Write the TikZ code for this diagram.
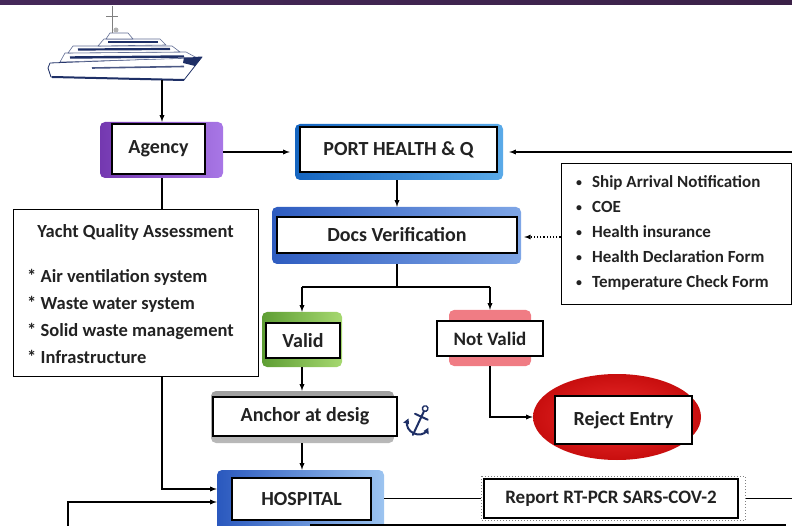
\documentclass[tikz,border=0pt]{standalone}
\usepackage{fontspec}
\setmainfont{Carlito}
\usetikzlibrary{positioning,shapes.geometric,arrows}

\definecolor{barleft}{HTML}{452859}
\definecolor{barmid}{HTML}{6D3A78}
\definecolor{barright}{HTML}{3B2148}
\definecolor{inkgray}{HTML}{222222}
\definecolor{shipnavy}{HTML}{1E2F66}
\definecolor{agencydark}{HTML}{7438B0}
\definecolor{agencylight}{HTML}{A877E6}
\definecolor{portdark}{HTML}{1565C0}
\definecolor{portlight}{HTML}{5AAAE8}
\definecolor{docsdark}{HTML}{2E5CC0}
\definecolor{docslight}{HTML}{7FA6E6}
\definecolor{validdark}{HTML}{5E9E34}
\definecolor{validlight}{HTML}{A6D870}
\definecolor{notvalidred}{HTML}{F07C84}
\definecolor{rejectlight}{HTML}{F03030}
\definecolor{rejectdark}{HTML}{C80E0E}
\definecolor{hospdark}{HTML}{2A58BE}
\definecolor{hosplight}{HTML}{9CC4F0}

\newcommand{\docbullet}{\raisebox{1pt}{\scalebox{0.7}{\textbullet}}\hspace{10pt}}

\begin{document}
\begin{tikzpicture}[x=1pt,y=-1pt,
    every node/.style={font=\bfseries\fontsize{20}{24}\selectfont,text=inkgray},
    whitebox/.style={rectangle,draw=black,line width=1.1pt,fill=white,inner sep=0pt},
    framebox/.style={rectangle,rounded corners=5pt,inner sep=0pt},
    infobox/.style={rectangle,draw=black,line width=1pt,fill=white,inner sep=0pt},
    flow/.style={-latex,line width=1.3pt},
    plain/.style={line width=1.3pt}
    ]
    \useasboundingbox (0,0) rectangle (792,526);

    % title bar
    \shade[left color=barleft,middle color=barmid,right color=barright] (0,0) rectangle (792,5);

    % yacht
    \begin{scope}[line join=round]
        \filldraw[fill=white,draw=shipnavy,line width=0.8pt] (50,63) -- (202,57) -- (184,80) -- (51,77) -- (48,68) -- cycle;
        \filldraw[fill=white,draw=shipnavy!70,line width=0.6pt] (60,62) -- (65,53) -- (186,52) -- (197,58) -- cycle;
        \filldraw[fill=white,draw=shipnavy!70,line width=0.6pt] (68,53) -- (73,46) -- (172,46) -- (180,52) -- cycle;
        \filldraw[fill=white,draw=shipnavy!70,line width=0.6pt] (98,46) -- (104,39) -- (160,39) -- (166,45) -- cycle;
        \filldraw[fill=white,draw=shipnavy!70,line width=0.6pt] (106,39) -- (110,33) -- (128,33) -- (133,39) -- cycle;
        \fill[shipnavy] (184,57.5) -- (202,57) -- (195,66) -- (183,63) -- cycle;
        \draw[shipnavy,line width=2.4pt] (70,57.5) -- (184,56.5);
        \draw[shipnavy,line width=2.2pt] (78,49.5) -- (170,49);
        \draw[shipnavy,line width=2pt] (108,42.5) -- (158,42.5);
        \draw[shipnavy!80,line width=1.6pt] (92,68) -- (184,66.5);
        \draw[shipnavy,line width=2pt] (52,77) -- (184,80);
        \draw[gray,line width=1pt] (112,33) -- (112,6);
        \draw[gray,line width=1pt] (106,17) -- (118,17);
        \fill[gray!60] (116,30) circle (2.5);
    \end{scope}
    \coordinate (keel) at (162,80);
    \coordinate (fromright) at (792,152);
    \coordinate (toright) at (792,498.5);
    \coordinate (lowin) at (68,528);

    % coloured frames
    \node[framebox,left color=agencydark,right color=agencylight,minimum width=123,minimum height=56] (agencyF) at (161.5,150) {};
    \node[framebox,left color=portdark,right color=portlight,minimum width=208,minimum height=56] (portF) at (399,152) {};
    \node[framebox,left color=docsdark,right color=docslight,minimum width=249,minimum height=57] (docsF) at (396.5,235.5) {};
    \node[framebox,left color=validdark,right color=validlight,minimum width=80,minimum height=55] (validF) at (302,339.5) {};
    \node[framebox,fill=notvalidred,minimum width=82,minimum height=56] (notvalidF) at (490,338) {};
    \node[framebox,top color=gray!75,bottom color=gray!55,minimum width=183,minimum height=52] (anchorF) at (302.5,417) {};
    \node[ellipse,inner color=rejectlight,outer color=rejectdark,minimum width=168,minimum height=86] (rejectF) at (617,417) {};
    \node[framebox,left color=hospdark,right color=hosplight,minimum width=167,minimum height=62] (hospitalF) at (300.5,501) {};

    % white boxes
    \node[whitebox,minimum width=93,minimum height=50] (agency) at (158.5,149) {Agency};
    \node[whitebox,minimum width=197,minimum height=45] (port) at (398.5,149.5) {PORT HEALTH \& Q};
    \node[whitebox,minimum width=240,minimum height=36] (docs) at (397,235) {Docs Verification};
    \node[whitebox,minimum width=74,minimum height=35] (valid) at (303,340.5) {Valid};
    \node[whitebox,minimum width=106,minimum height=35,font=\bfseries\fontsize{19}{23}\selectfont] (notvalid) at (490,338.5) {Not Valid};
    \node[whitebox,minimum width=184,minimum height=39] (anchorbox) at (305,416.5) {Anchor at desig};
    \node[whitebox,minimum width=137,minimum height=48] (reject) at (623.5,420) {Reject Entry};
    \node[whitebox,minimum width=139,minimum height=42] (hospital) at (301.5,499) {HOSPITAL};
    \node[whitebox,minimum width=254,minimum height=39,font=\bfseries\fontsize{19}{23}\selectfont] (report) at (611,498.5) {Report RT-PCR SARS-COV-2};
    \draw[dotted,gray,line width=1pt] ([shift={(-2,-2)}]report.north west) rectangle ([shift={(7,2)}]report.south east);

    % assessment box
    \node[infobox,minimum width=245,minimum height=166] (yacht) at (135.5,293) {};
    \node[font=\bfseries\fontsize{18.5}{22}\selectfont] (yachttitle) at (135.5,232) {Yacht Quality Assessment};
    \node[anchor=west,align=left,inner sep=0pt,font=\bfseries\fontsize{18.5}{27}\selectfont] (yachtitems) at (27,316.5)
        {* Air ventilation system\\* Waste water system\\* Solid waste management\\* Infrastructure};

    % documents box
    \node[infobox,minimum width=230,minimum height=141] (docslist) at (676,234.5) {};
    \node[anchor=west,align=left,inner sep=0pt,font=\bfseries\fontsize{17}{25}\selectfont] (docsitems) at (576,233)
        {\docbullet Ship Arrival Notification\\\docbullet COE\\\docbullet Health insurance\\\docbullet Health Declaration Form\\\docbullet Temperature Check Form};

    % anchor sign
    \begin{scope}[shift={(418,424)},rotate=-25,shipnavy,line width=2pt,line cap=round]
        \draw (0,-14) -- (0,12);
        \draw (-7,-8) -- (7,-8);
        \draw[line width=1.4pt] (0,-17) circle (2.8);
        \draw (-11,2) .. controls (-9,13) and (9,13) .. (11,2);
        \fill (-11,-1) -- (-14,5) -- (-8,4) -- cycle;
        \fill (11,-1) -- (14,5) -- (8,4) -- cycle;
    \end{scope}

    % connectors
    \draw[flow] (keel) -- (keel |- agencyF.north);
    \draw[flow,shorten >=5pt] (agencyF.east |- 0,152) -- (portF.west |- 0,152);
    \draw[flow,shorten >=6pt] (fromright) -- (fromright -| portF.east);
    \draw[flow] (portF.south -| docs.north) -- (docsF.north -| docs.north);
    \draw[plain] (docsF.south -| docs.north) -- (docs.north |- 0,287) coordinate (split);
    \draw[plain] (split -| validF.north) -- (split -| notvalidF.north);
    \draw[flow] (split -| validF.north) -- (validF.north);
    \draw[flow] (split -| notvalidF.north) -- (notvalidF.north);
    \draw[dotted,-latex,line width=1.2pt,shorten >=3pt] (docslist.west |- 0,237) -- (docsF.east |- 0,237);
    \draw[flow] (validF.south) -- (validF.south |- anchorF.north);
    \draw[flow] (notvalidF.south) |- (rejectF.west);
    \draw[flow] (validF.south |- anchorF.south) -- (validF.south |- hospitalF.north);
    \draw[plain] (agencyF.south -| keel) -- (yacht.north -| keel);
    \draw[flow] (yacht.south -| keel) |- ([yshift=12pt]hospitalF.west);
    \draw[flow] (lowin) |- ([yshift=-1pt]hospitalF.west);
    \draw[plain] (hospitalF.east |- report.west) -- ([xshift=-2pt]report.west);
    \draw[plain] ([xshift=7pt]report.east) -- (toright);

    % edge of the next box
    \draw[plain] (310,525) -- (786,525);
\end{tikzpicture}
\end{document}
